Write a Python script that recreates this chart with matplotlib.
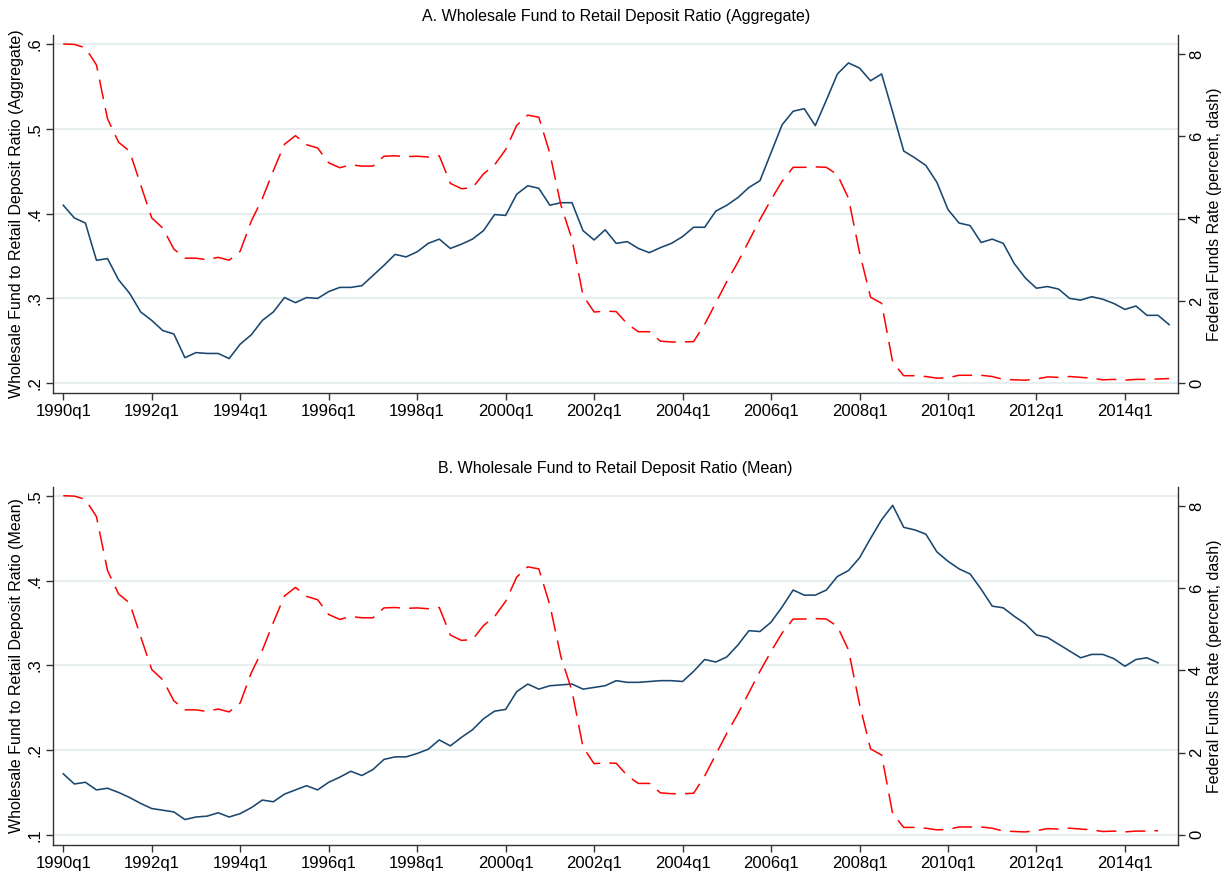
import matplotlib
matplotlib.use("Agg")
import matplotlib.pyplot as plt

plt.rcParams["font.family"] = ["Liberation Sans", "DejaVu Sans"]

# Quarterly data, 1990q1 onward (index 0 = 1990q1)
agg_ratio = [
    0.410, 0.395, 0.389, 0.345, 0.347, 0.322, 0.306, 0.284, 0.274, 0.262,
    0.258, 0.230, 0.236, 0.235, 0.235, 0.229, 0.246, 0.257, 0.274, 0.284,
    0.301, 0.295, 0.301, 0.300, 0.308, 0.313, 0.313, 0.315, 0.327, 0.339,
    0.352, 0.349, 0.355, 0.365, 0.370, 0.359, 0.364, 0.370, 0.380, 0.399,
    0.398, 0.423, 0.433, 0.430, 0.410, 0.413, 0.413, 0.380, 0.369, 0.381,
    0.365, 0.367, 0.359, 0.354, 0.360, 0.365, 0.373, 0.384, 0.384, 0.403,
    0.410, 0.419, 0.431, 0.439, 0.472, 0.505, 0.521, 0.524, 0.504, 0.534,
    0.565, 0.578, 0.572, 0.557, 0.565, 0.520, 0.474, 0.466, 0.457, 0.437,
    0.405, 0.389, 0.386, 0.366, 0.370, 0.365, 0.341, 0.324, 0.312, 0.314,
    0.311, 0.300, 0.298, 0.302, 0.299, 0.294, 0.287, 0.291, 0.280, 0.280,
    0.269,
]

mean_ratio = [
    0.172, 0.160, 0.162, 0.153, 0.155, 0.150, 0.144, 0.137, 0.131, 0.129,
    0.127, 0.118, 0.121, 0.122, 0.126, 0.121, 0.125, 0.132, 0.141, 0.139,
    0.148, 0.153, 0.158, 0.153, 0.162, 0.168, 0.175, 0.170, 0.177, 0.189,
    0.192, 0.192, 0.196, 0.201, 0.212, 0.205, 0.215, 0.224, 0.237, 0.246,
    0.248, 0.269, 0.278, 0.272, 0.276, 0.277, 0.278, 0.272, 0.274, 0.276,
    0.282, 0.280, 0.280, 0.281, 0.282, 0.282, 0.281, 0.293, 0.307, 0.304,
    0.310, 0.324, 0.341, 0.340, 0.351, 0.369, 0.389, 0.383, 0.383, 0.389,
    0.405, 0.412, 0.427, 0.450, 0.472, 0.489, 0.463, 0.460, 0.455, 0.434,
    0.423, 0.414, 0.408, 0.390, 0.370, 0.368, 0.358, 0.349, 0.336, 0.333,
    0.325, 0.317, 0.309, 0.313, 0.313, 0.308, 0.299, 0.307, 0.309, 0.303,
]

fed_funds = [
    8.25, 8.24, 8.16, 7.74, 6.43, 5.86, 5.64, 4.82, 4.02, 3.77,
    3.26, 3.04, 3.04, 3.00, 3.06, 2.99, 3.21, 3.94, 4.49, 5.17,
    5.81, 6.02, 5.80, 5.72, 5.36, 5.24, 5.31, 5.28, 5.28, 5.52,
    5.53, 5.51, 5.52, 5.50, 5.53, 4.86, 4.73, 4.75, 5.09, 5.31,
    5.68, 6.27, 6.52, 6.47, 5.59, 4.33, 3.50, 2.13, 1.73, 1.75,
    1.74, 1.44, 1.25, 1.25, 1.02, 1.00, 1.00, 1.01, 1.43, 1.95,
    2.47, 2.94, 3.46, 3.98, 4.46, 4.91, 5.25, 5.25, 5.26, 5.25,
    5.07, 4.50, 3.18, 2.09, 1.94, 0.51, 0.18, 0.18, 0.16, 0.12,
    0.13, 0.19, 0.19, 0.19, 0.16, 0.09, 0.08, 0.07, 0.10, 0.15,
    0.14, 0.16, 0.14, 0.12, 0.08, 0.09, 0.07, 0.09, 0.09, 0.10,
    0.11,
]

tick_pos = [0, 8, 16, 24, 32, 40, 48, 56, 64, 72, 80, 88, 96]
tick_labels = ["1990q1", "1992q1", "1994q1", "1996q1", "1998q1", "2000q1",
               "2002q1", "2004q1", "2006q1", "2008q1", "2010q1", "2012q1",
               "2014q1"]

BLUE = "#1a476f"
GRID = "#e6eef0"
AXC = "#333333"

panels = [
    ("A. Wholesale Fund to Retail Deposit Ratio (Aggregate)",
     "Wholesale Fund to Retail Deposit Ratio (Aggregate)",
     agg_ratio, [0.2, 0.3, 0.4, 0.5, 0.6], [".2", ".3", ".4", ".5", ".6"],
     0.2, [0.0436, 0.5485, 0.9196, 0.4113]),
    ("B. Wholesale Fund to Retail Deposit Ratio (Mean)",
     "Wholesale Fund to Retail Deposit Ratio (Mean)",
     mean_ratio, [0.1, 0.2, 0.3, 0.4, 0.5], [".1", ".2", ".3", ".4", ".5"],
     0.1, [0.0436, 0.0299, 0.9196, 0.4113]),
]

fig = plt.figure(figsize=(12.23, 8.71), dpi=100)
scale = 0.04853  # left-axis units per percentage point

for title, ylabel, ratio, yt, ytl, base, rect in panels:
    ax = fig.add_axes(rect)
    ax2 = ax.twinx()
    n = len(ratio)
    x = list(range(n))

    ax.plot(x, ratio, color=BLUE, lw=1.15, zorder=3)
    ax2.plot(x, fed_funds[:n], color="red", lw=1.1,
             dashes=(13, 6), zorder=3)

    ax.set_xlim(-0.9, 100.8)
    lo, hi = base - 0.012, base + 0.411
    ax.set_ylim(lo, hi)
    ax2.set_ylim((lo - base) / scale, (hi - base) / scale)

    ax.set_yticks(yt)
    ax.set_yticklabels(ytl, rotation=90, va="center", fontsize=12)
    ax2.set_yticks([0, 2, 4, 6, 8])
    ax2.set_yticklabels(["0", "2", "4", "6", "8"], rotation=90,
                        va="center", fontsize=12)
    ax.set_xticks(tick_pos)
    ax.set_xticklabels(tick_labels, fontsize=12)

    ax.grid(axis="y", color=GRID, lw=1.5, zorder=0)
    ax.set_axisbelow(True)

    for a in (ax, ax2):
        a.spines["top"].set_visible(False)
        for s in ("left", "right", "bottom"):
            a.spines[s].set_color(AXC)
            a.spines[s].set_linewidth(1.0)
        a.tick_params(direction="out", length=5, width=1.0, color=AXC,
                      labelcolor="black", pad=3)
    ax.spines["right"].set_visible(False)
    ax2.spines["left"].set_visible(False)
    ax2.spines["bottom"].set_visible(False)

    ax.set_title(title, fontsize=11.5, pad=10)
    ax.set_ylabel(ylabel, fontsize=11.5, labelpad=2)
    ax2.set_ylabel("Federal Funds Rate (percent, dash)", fontsize=11.5,
                   labelpad=2)

fig.savefig("out.png", dpi=100, facecolor="white")
